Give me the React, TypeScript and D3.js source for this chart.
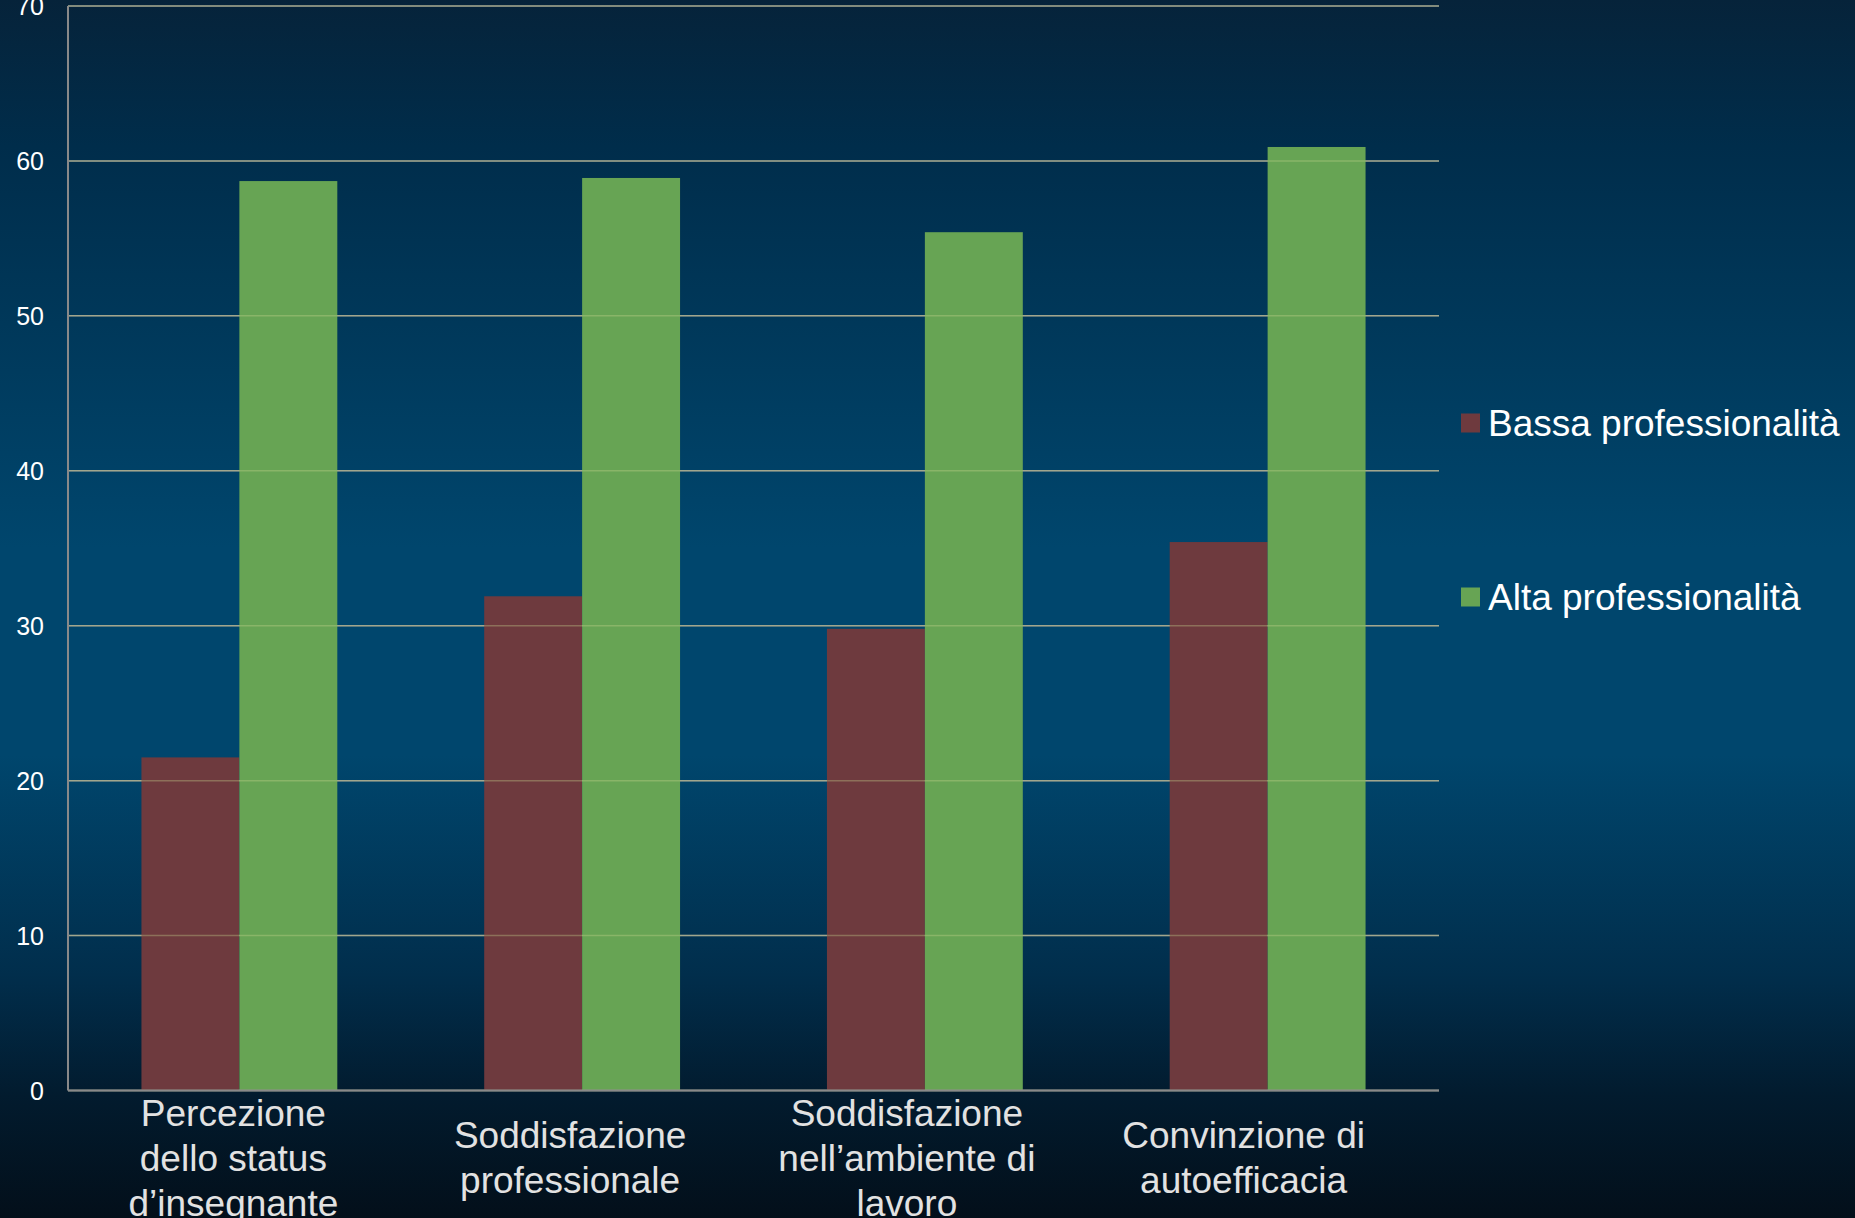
import React from "react";
import * as d3 from "d3";

const categories: string[][] = [
  ["Percezione", "dello status", "d\u2019insegnante"],
  ["Soddisfazione", "professionale"],
  ["Soddisfazione", "nell\u2019ambiente di", "lavoro"],
  ["Convinzione di", "autoefficacia"],
];
const seriesNames = ["Bassa professionalità", "Alta professionalità"];
const bassa = [21.5, 31.9, 29.8, 35.4];
const alta = [58.7, 58.9, 55.4, 60.9];
const yTicks = [0, 10, 20, 30, 40, 50, 60, 70];
const colors = ["#6E3A3E", "#67A454"];

const W = 1855;
const H = 1218;
const M = { left: 68, right: 1439, top: 6, bottom: 1090.5 };

export default function App() {
  const x = d3
    .scaleBand<number>()
    .domain(d3.range(categories.length))
    .range([M.left, M.right])
    .paddingInner(0)
    .paddingOuter(0);
  const step = x.bandwidth();
  const barW = step / 3.5;
  const y = d3.scaleLinear().domain([0, 70]).range([M.bottom, M.top]);
  const series = [bassa, alta];
  const font = "'Liberation Sans', Arial, sans-serif";

  return (
    <svg
      width={W}
      height={H}
      style={{ position: "absolute", left: 0, top: 0, display: "block" }}
    >
      <defs>
        <linearGradient id="bg" x1="0" y1="0" x2="0" y2="1">
          <stop offset="0" stopColor="#06233A" />
          <stop offset="0.12" stopColor="#002D4B" />
          <stop offset="0.45" stopColor="#00466D" />
          <stop offset="0.62" stopColor="#00466D" />
          <stop offset="0.8" stopColor="#012E4C" />
          <stop offset="0.9" stopColor="#021B2E" />
          <stop offset="1" stopColor="#030F1A" />
        </linearGradient>
      </defs>
      <rect x={0} y={0} width={W} height={H} fill="url(#bg)" />

      {yTicks.map((t) => (
        <line
          key={"g" + t}
          x1={M.left}
          x2={M.right}
          y1={y(t)}
          y2={y(t)}
          stroke="#8C8C8C"
          strokeWidth={1.5}
        />
      ))}

      {series.map((vals, si) =>
        vals.map((v, ci) => {
          const cx = (x(ci) as number) + step / 2;
          const bx = cx - barW + si * barW;
          return (
            <rect
              key={`b${si}-${ci}`}
              x={bx}
              y={y(v)}
              width={barW}
              height={y(0) - y(v)}
              fill={colors[si]}
            />
          );
        })
      )}

      {yTicks.map((t) => (
        <line
          key={"go" + t}
          x1={M.left}
          x2={M.right}
          y1={y(t)}
          y2={y(t)}
          stroke="#C8D890"
          strokeOpacity={0.35}
          strokeWidth={1.5}
        />
      ))}

      <line x1={M.left} x2={M.left} y1={M.top} y2={M.bottom} stroke="#898989" strokeWidth={2} />
      <line x1={M.left} x2={M.right} y1={M.bottom} y2={M.bottom} stroke="#898989" strokeWidth={2} />

      {yTicks.map((t) => (
        <text
          key={"t" + t}
          x={44}
          y={y(t)}
          textAnchor="end"
          dominantBaseline="central"
          fill="#FFFFFF"
          fontFamily={font}
          fontSize={25}
        >
          {t}
        </text>
      ))}

      {categories.map((lines, ci) => {
        const cx = (x(ci) as number) + step / 2 - 6 - 6 * ci;
        const lh = 45;
        const startY = 1158 - ((lines.length - 1) * lh) / 2;
        return (
          <text
            key={"c" + ci}
            textAnchor="middle"
            fill="#E2E2E2"
            fontFamily={font}
            fontSize={37}
          >
            {lines.map((ln, li) => (
              <tspan key={li} x={cx} y={startY + li * lh} dominantBaseline="central">
                {ln}
              </tspan>
            ))}
          </text>
        );
      })}

      {seriesNames.map((name, si) => {
        const yy = 423 + si * 174;
        return (
          <g key={"l" + si}>
            <rect x={1461} y={yy - 9.5} width={19} height={19} fill={colors[si]} />
            <text
              x={1488}
              y={yy}
              dominantBaseline="central"
              fill="#FFFFFF"
              fontFamily={font}
              fontSize={37}
            >
              {name}
            </text>
          </g>
        );
      })}
    </svg>
  );
}
